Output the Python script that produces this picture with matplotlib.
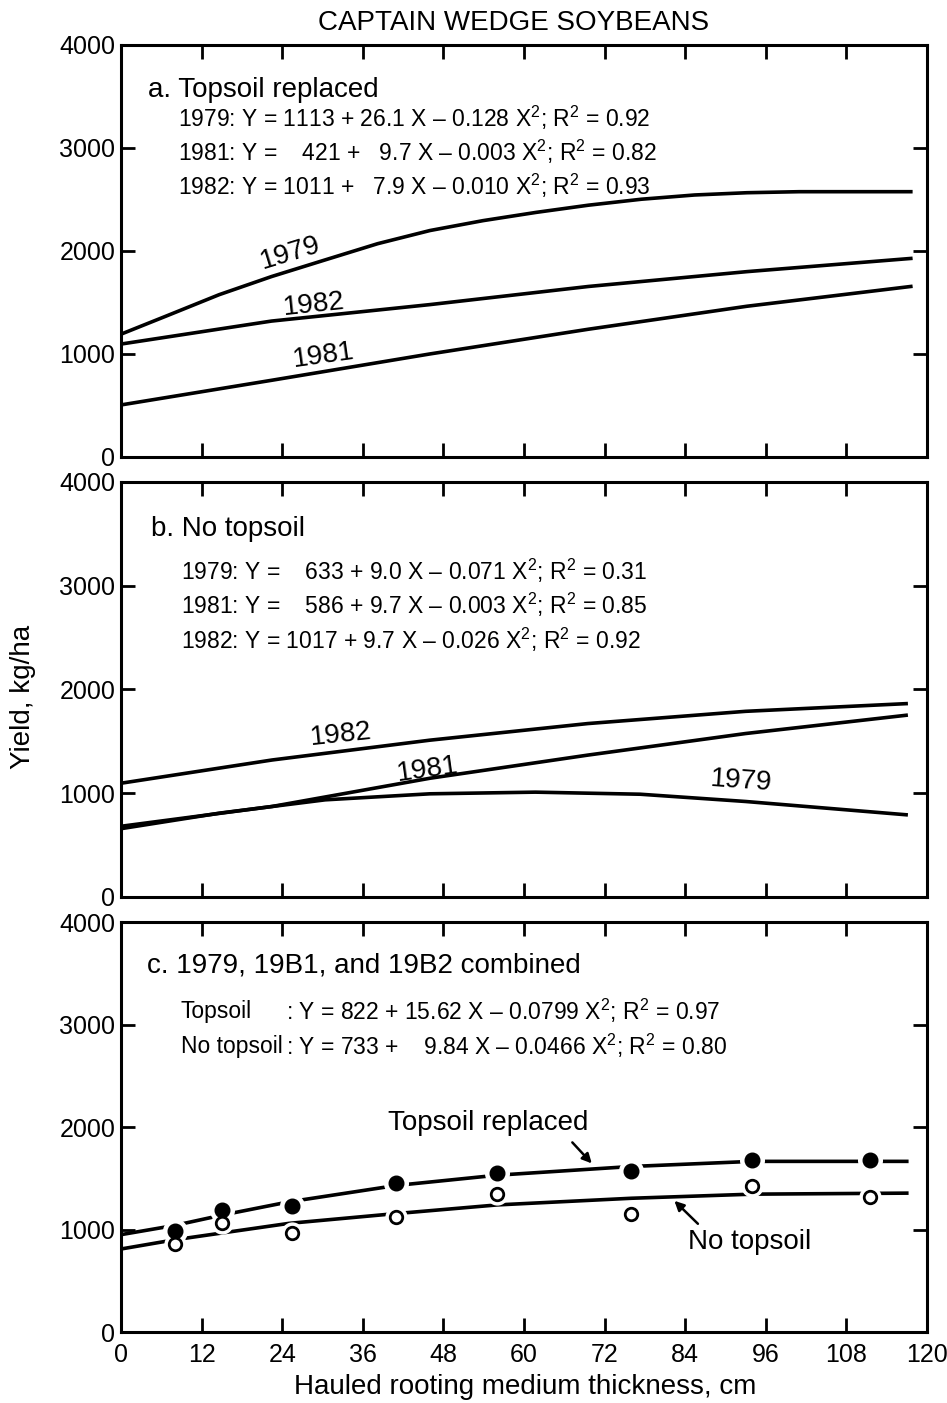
import matplotlib
matplotlib.use("Agg")
import matplotlib.pyplot as plt

plt.rcParams["font.family"] = ["Liberation Sans", "DejaVu Sans"]
plt.rcParams["mathtext.fontset"] = "custom"
plt.rcParams["mathtext.rm"] = "Liberation Sans"
plt.rcParams["mathtext.it"] = "Liberation Sans:italic"

# a. topsoil replaced (curves)
a_x_1979 = [0, 6.7, 14.6, 22.4, 30.3, 38.2, 46, 53.9, 61.8, 69.6, 77.5, 85.4, 93.2, 101, 117.6]
a_y_1979 = [1192, 1367, 1575, 1751, 1911, 2070, 2198, 2294, 2374, 2444, 2502, 2543, 2565, 2575, 2575]
a_x_1982 = [0, 22.4, 46, 69.6, 93.2, 117.6]
a_y_1982 = [1096, 1319, 1479, 1655, 1799, 1927]
a_x_1981 = [0, 22.4, 46, 69.6, 93.2, 117.6]
a_y_1981 = [505, 744, 1000, 1240, 1463, 1655]

# b. no topsoil
b_x_1982 = [0, 22.5, 46, 69.5, 93, 116.9]
b_y_1982 = [1096, 1320, 1511, 1671, 1789, 1863]
b_x_1981 = [0, 22.5, 46, 69.5, 93, 116.9]
b_y_1981 = [681, 872, 1144, 1367, 1575, 1751]
b_x_1979 = [0, 14.7, 30.4, 46, 61.7, 77.3, 93, 116.9]
b_y_1979 = [658, 808, 936, 994, 1010, 990, 920, 792]

# c. combined: fitted curves and measured means
c_x_top = [0, 8, 15, 25, 41, 56, 76, 94, 117]
c_y_top = [950, 1040, 1140, 1270, 1430, 1530, 1615, 1665, 1665]
c_x_none = [0, 8, 25, 40, 56, 76, 94, 117]
c_y_none = [810, 900, 1060, 1150, 1240, 1305, 1345, 1355]
pts_x = [8, 15, 25.5, 41, 56, 76, 94, 111.5]
pts_top = [990, 1190, 1225, 1455, 1550, 1570, 1680, 1675]
pts_none = [860, 1065, 970, 1120, 1345, 1150, 1420, 1320]

eq_a = [
    "1979: Y = 1113 + 26.1 X – 0.128 X$^2$; R$^2$ = 0.92",
    "1981: Y =    421 +   9.7 X – 0.003 X$^2$; R$^2$ = 0.82",
    "1982: Y = 1011 +   7.9 X – 0.010 X$^2$; R$^2$ = 0.93",
]
eq_b = [
    "1979: Y =    633 + 9.0 X – 0.071 X$^2$; R$^2$ = 0.31",
    "1981: Y =    586 + 9.7 X – 0.003 X$^2$; R$^2$ = 0.85",
    "1982: Y = 1017 + 9.7 X – 0.026 X$^2$; R$^2$ = 0.92",
]
eq_c_names = ["Topsoil", "No topsoil"]
eq_c = [
    ": Y = 822 + 15.62 X – 0.0799 X$^2$; R$^2$ = 0.97",
    ": Y = 733 +    9.84 X – 0.0466 X$^2$; R$^2$ = 0.80",
]

LW = 2.6
EQ = 16.5
fig = plt.figure(figsize=(9.47, 14.03), dpi=100)
left, width = 0.1278, 0.851
ax_a = fig.add_axes([left, 0.6743, width, 0.2937])
ax_b = fig.add_axes([left, 0.3607, width, 0.2958])
ax_c = fig.add_axes([left, 0.0506, width, 0.2922])

for ax in (ax_a, ax_b, ax_c):
    ax.set_xlim(0, 120)
    ax.set_ylim(0, 4000)
    ax.set_xticks(range(0, 121, 12))
    ax.set_yticks(range(0, 4001, 1000))
    ax.tick_params(direction="in", length=10, width=2, top=True, right=True,
                   labelsize=18, pad=4)
    ax.tick_params(axis="x", pad=8)
    for s in ax.spines.values():
        s.set_linewidth(2.2)
for ax in (ax_a, ax_b):
    ax.tick_params(labelbottom=False)

# panel a
ax_a.plot(a_x_1979, a_y_1979, color="black", lw=LW)
ax_a.plot(a_x_1982, a_y_1982, color="black", lw=LW)
ax_a.plot(a_x_1981, a_y_1981, color="black", lw=LW)
ax_a.text(4.0, 3560, "a. Topsoil replaced", fontsize=20, va="center")
for i, s in enumerate(eq_a):
    ax_a.text(8.5, 3290 - i * 330, s, fontsize=EQ, va="center")
ax_a.text(25.2, 1981, "1979", fontsize=20, rotation=17, ha="center", va="center")
ax_a.text(28.7, 1479, "1982", fontsize=20, rotation=6, ha="center", va="center")
ax_a.text(30.1, 984, "1981", fontsize=20, rotation=8, ha="center", va="center")

# panel b
ax_b.plot(b_x_1982, b_y_1982, color="black", lw=LW)
ax_b.plot(b_x_1981, b_y_1981, color="black", lw=LW)
ax_b.plot(b_x_1979, b_y_1979, color="black", lw=LW)
ax_b.text(4.5, 3550, "b. No topsoil", fontsize=20, va="center")
for i, s in enumerate(eq_b):
    ax_b.text(8.9, 3140 - i * 330, s, fontsize=EQ, va="center")
ax_b.text(32.7, 1565, "1982", fontsize=20, rotation=6, ha="center", va="center")
ax_b.text(45.6, 1230, "1981", fontsize=20, rotation=8, ha="center", va="center")
ax_b.text(92.4, 1118, "1979", fontsize=20, rotation=-4, ha="center", va="center")

# panel c
ax_c.plot(c_x_top, c_y_top, color="black", lw=LW, zorder=2)
ax_c.plot(c_x_none, c_y_none, color="black", lw=LW, zorder=2)
# white halos break the lines around the points
ax_c.plot(pts_x, pts_top, "o", ms=17, color="white", zorder=3)
ax_c.plot(pts_x, pts_none, "o", ms=15, color="white", zorder=3)
ax_c.plot(pts_x, pts_top, "o", ms=10.5, color="black", zorder=4)
ax_c.plot(pts_x, pts_none, "o", ms=9, mfc="white", mec="black", mew=2, zorder=4)
ax_c.text(3.9, 3580, "c. 1979, 19B1, and 19B2 combined", fontsize=20, va="center")
for i, (name, s) in enumerate(zip(eq_c_names, eq_c)):
    y = 3130 - i * 340
    ax_c.text(8.9, y, name, fontsize=EQ, va="center")
    ax_c.text(24.6, y, s, fontsize=EQ, va="center")
ax_c.text(54.7, 2040, "Topsoil replaced", fontsize=20, ha="center", va="center")
ax_c.text(93.6, 880, "No topsoil", fontsize=20, ha="center", va="center")
arrow = dict(arrowstyle="-|>", color="black", lw=1.8, shrinkA=0, shrinkB=0,
             mutation_scale=14)
ax_c.annotate("", xy=(70.1, 1645), xytext=(67.2, 1850), arrowprops=arrow)
ax_c.annotate("", xy=(82.4, 1280), xytext=(85.9, 1056), arrowprops=arrow)

fig.text(514 / 947, 1 - 23 / 1403, "CAPTAIN WEDGE SOYBEANS", fontsize=20,
         ha="center", va="center")
fig.text(23 / 947, 1 - 697 / 1403, "Yield, kg/ha", fontsize=20, rotation=90,
         ha="center", va="center")
fig.text(525 / 947, 1 - 1387 / 1403, "Hauled rooting medium thickness, cm",
         fontsize=20, ha="center", va="center")

fig.savefig("out.png", dpi=100)
